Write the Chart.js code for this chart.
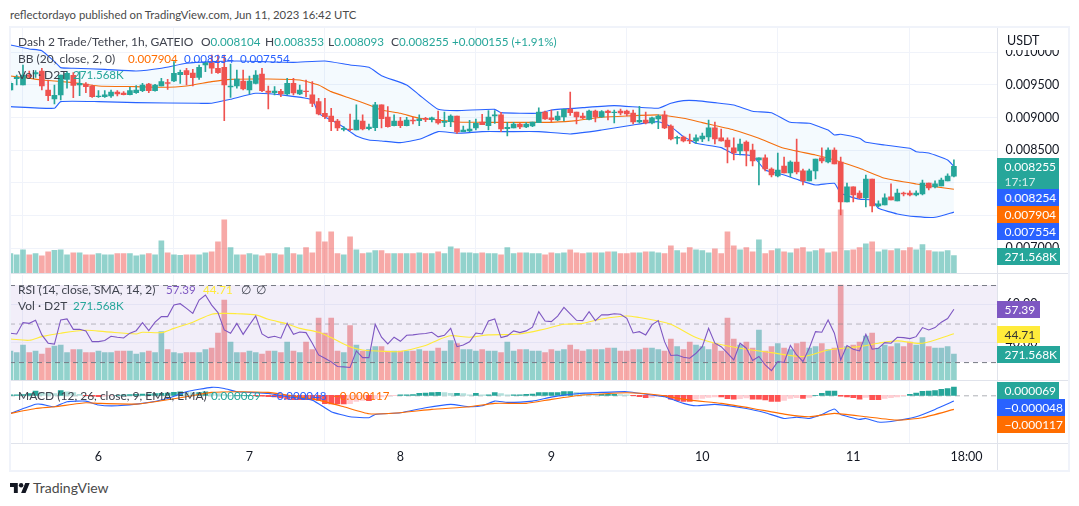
<!DOCTYPE html>
<html>
<head>
<meta charset="utf-8">
<title>Dash 2 Trade/Tether, 1h</title>
<script src="https://cdn.jsdelivr.net/npm/chart.js@4"></script>
<style>
  html, body { margin: 0; background: #fff; }
  body { width: 1079px; height: 506px; position: relative; overflow: hidden;
         font: 12.5px Lato, sans-serif; color: #3f434e; }
  canvas { position: absolute; left: 10px; }
  .abs { position: absolute; white-space: nowrap; }
  .line { position: absolute; background: #e0e3eb; }
  .legend { position: absolute; left: 18px; white-space: pre; line-height: 16px; height: 16px; font-size: 12px; }
  .legend span { display: inline-block; }
  .num { font-size: 11.6px; font-weight: 400; }
  .up { color: #26a69a; } .bl { color: #2962ff; } .or { color: #ff6d00; }
  .tag { position: absolute; left: 997px; color: #fff; line-height: 17px; height: 17px; font-size: 12px;
         padding-left: 7.5px; box-sizing: border-box; }
</style>
</head>
<body>
<div class="abs" style="left:10px;top:8px;font-size:11.3px;color:#4a4a4a">reflectordayo published on TradingView.com, Jun 11, 2023 16:42 UTC</div>

<canvas id="mainChart" width="1059" height="246" style="top:27px"></canvas>
<canvas id="rsiChart" width="1059" height="105" style="top:275px"></canvas>
<canvas id="macdChart" width="1059" height="91" style="top:380px"></canvas>

<div class="line" style="left:10px;top:273px;width:1059px;height:1px"></div>
<div class="line" style="left:10px;top:380px;width:1059px;height:1px"></div>
<div class="line" style="left:10px;top:443px;width:1059px;height:1px"></div>
<div class="line" style="left:997px;top:27px;width:1px;height:444px"></div>
<div class="abs" style="left:9px;top:26px;width:1061px;height:446px;box-sizing:border-box;border:2px solid #f0f3fa"></div>

<div class="abs" style="left:998px;top:28px;width:70px;height:22px;background:#fff;color:#131722;padding:5px 0 0 9px;box-sizing:border-box">USDT</div>

<div class="legend" style="top:34px"><span style="width:183px">Dash 2 Trade/Tether, 1h, GATEIO</span><span style="width:64px">O<b class="up num">0.008104</b></span><span style="width:63px">H<b class="up num">0.008353</b></span><span style="width:63px">L<b class="up num">0.008093</b></span><span style="width:61px">C<b class="up num">0.008255</b></span><span class="up num">+0.000155 (+1.91%)</span></div>
<div class="legend" style="top:51px"><span style="width:110px">BB (20, close, 2, 0)</span><span class="or num" style="width:56px">0.007904</span><span class="bl num" style="width:56px">0.008254</span><span class="bl num">0.007554</span></div>
<div class="legend" style="top:67px"><span style="width:55px">Vol · D2T</span><span class="up num">271.568K</span></div>
<div class="legend" style="top:282px"><span style="width:148px">RSI (14, close, SMA, 14, 2)</span><span class="num" style="width:37px;color:#7e57c2">57.39</span><span class="num" style="width:38px;color:#ffeb3b">44.71</span><span style="width:15px">∅</span><span>∅</span></div>
<div class="legend" style="top:298px"><span style="width:55px">Vol · D2T</span><span class="up num">271.568K</span></div>
<div class="legend" style="top:388px"><span style="width:193px">MACD (12, 26, close, 9, EMA, EMA)</span><span class="up num" style="width:59px">0.000069</span><span class="bl num" style="width:63px">−0.000048</span><span class="or num">−0.000117</span></div>

<div class="tag" style="top:158px;width:62px;height:31px;background:#26a69a;line-height:15px;padding-top:1px">0.008255<br><span style="opacity:.8">17:17</span></div>
<div class="tag" style="top:189px;width:62px;background:#2962ff">0.008254</div>
<div class="tag" style="top:206px;width:62px;background:#ff6d00">0.007904</div>
<div class="tag" style="top:223px;width:62px;background:#2962ff">0.007554</div>
<div class="tag" style="top:248px;width:63px;background:#26a69a">271.568K</div>
<div class="tag" style="top:301px;width:43px;background:#7e57c2">57.39</div>
<div class="tag" style="top:326px;width:43px;background:#ffeb3b;color:#333">44.71</div>
<div class="tag" style="top:346px;width:63px;background:#26a69a">271.568K</div>
<div class="tag" style="top:382px;width:62px;background:#26a69a">0.000069</div>
<div class="tag" style="top:399px;width:68px;background:#2962ff">−0.000048</div>
<div class="tag" style="top:416px;width:68px;background:#ff6d00">−0.000117</div>

<svg class="abs" style="left:10px;top:482px" width="20" height="12" viewBox="0 4 36 18"><path fill="#131722" d="M14 22H7V11H0V4h14v18zM28 22h-8l7.5-18h8L28 22z"/><circle fill="#131722" cx="20" cy="8" r="4"/></svg>
<div class="abs" style="left:33px;top:479px;font-size:14px;color:#4a4a4a">TradingView</div>

<script>
"use strict";

// prices are in 1e-6 USDT, volumes in thousands; one entry per hourly bar
const opens = [
  9423,9596,9500,9653,9668,9714,9423,9285,9347,9586,
  9647,9500,9515,9484,9321,9321,9331,9392,9377,9352,
  9382,9413,9515,9413,9484,9535,9561,9658,9719,9683,
  9617,9806,9841,9755,9770,9469,9484,9561,9423,9525,
  9668,9408,9382,9403,9362,9525,9362,9408,9347,9245,
  9066,9025,8949,8821,8826,8811,8949,8831,8847,9194,
  9010,8877,8949,8877,8964,8954,8990,8969,8974,8928,
  8938,9025,8786,8796,8842,8933,8877,9025,9041,8831,
  8842,8903,8857,8872,8923,9086,8995,8964,9010,9132,
  9086,9025,8974,9102,9010,9102,9076,9102,9102,9071,
  8933,8964,8918,8979,9041,8872,8684,8704,8653,8643,
  8673,8704,8842,8689,8658,8536,8490,8627,8505,8352,
  8383,8214,8107,8260,8153,8321,8184,8031,8184,8383,
  8321,8505,8321,7709,7939,7847,7771,8061,7648,7663,
  7786,7725,7847,7847,7816,7832,8000,7939,7954,8031,
  8104];
const highs = [
  9550,9653,9806,9714,9719,9755,9576,9500,9653,9704,
  9688,9704,9535,9500,9413,9413,9423,9413,9397,9464,
  9489,9525,9525,9510,9602,9586,9857,9729,9755,9739,
  9806,9846,9958,9958,9958,9821,9729,9729,9637,9719,
  9755,9484,9474,9433,9602,9602,9500,9576,9551,9296,
  9296,9143,8974,8862,9056,9194,9041,8903,9234,9194,
  9168,9041,9005,9005,9005,9041,9005,9010,9102,9086,
  9041,9025,8872,8959,8979,9051,9107,9107,9081,8928,
  8928,8913,8923,8933,9148,9102,9117,9092,9132,9392,
  9086,9071,9117,9117,9107,9117,9117,9132,9117,9117,
  9173,9086,9010,9041,9102,8888,8719,8719,8750,8735,
  8765,8964,8933,8826,8689,8689,8673,8643,8597,8383,
  8429,8230,8459,8398,8337,8673,8214,8214,8367,8536,
  8536,8536,8398,8000,7939,7878,8122,8061,7725,7832,
  7985,7908,7862,7878,7878,8046,8000,8031,8076,8138,
  8353];
const lows = [
  9413,9500,9500,9602,9617,9423,9260,9209,9270,9449,
  9306,9336,9382,9311,9311,9311,9311,9331,9347,9347,
  9372,9398,9382,9403,9484,9433,9551,9525,9500,9484,
  9586,9704,9678,9678,8954,9311,9449,9423,9362,9515,
  9398,9132,9347,9321,9347,9347,9352,9321,9168,9041,
  8984,8801,8801,8796,8801,8811,8811,8811,8801,8842,
  8852,8872,8847,8872,8903,8877,8938,8933,8898,8862,
  8862,8760,8786,8786,8811,8893,8811,8913,8786,8719,
  8842,8831,8847,8862,8923,8974,8938,8954,8949,9035,
  8903,8984,8964,8933,9005,8964,8918,9041,9025,8903,
  8918,8903,8903,8831,8831,8658,8597,8627,8602,8607,
  8632,8643,8597,8638,8306,8352,8428,8260,8260,7970,
  8184,8092,8092,8153,8092,8138,7970,8031,8061,8306,
  8306,8291,7510,7709,7709,7760,7633,7556,7633,7663,
  7740,7725,7801,7801,7801,7816,7893,7924,7954,8031,
  8093];
const closes = [
  9525,9617,9653,9632,9688,9484,9336,9341,9653,9678,
  9494,9525,9474,9321,9331,9347,9392,9362,9352,9413,
  9423,9500,9413,9500,9551,9525,9678,9693,9658,9612,
  9770,9841,9755,9688,9500,9484,9591,9438,9561,9653,
  9413,9387,9408,9362,9525,9377,9423,9398,9219,9056,
  9015,8939,8842,8837,8816,8964,8826,8857,9194,8984,
  8862,8949,8877,8964,8949,8979,8974,8995,8918,8944,
  9025,8780,8811,8826,8913,8893,9010,9041,8826,8852,
  8903,8857,8903,8933,9086,8979,8969,9025,9127,9076,
  9010,8995,9102,9010,9092,9076,9086,9071,9056,8933,
  8959,8918,8995,9025,8842,8673,8699,8643,8643,8689,
  8719,8842,8673,8643,8551,8459,8597,8490,8337,8383,
  8214,8122,8199,8153,8321,8168,8031,8184,8367,8337,
  8505,8291,7709,7939,7816,7771,8061,7648,7679,7771,
  7740,7847,7832,7816,7847,8000,7924,7985,8046,8107,
  8255];
const volumes = [
  303,287,365,287,303,271,334,355,365,287,
  318,318,287,287,303,287,287,303,303,303,
  271,287,303,287,506,318,287,277,287,287,
  287,318,334,491,835,397,287,287,303,287,
  271,303,303,287,397,303,287,397,318,647,
  491,647,303,287,569,365,303,318,350,350,
  303,303,303,303,303,318,303,303,334,303,
  412,381,318,318,303,318,303,303,287,397,
  303,318,318,303,303,287,318,303,318,365,
  318,303,318,318,318,334,334,303,303,318,
  318,334,334,318,303,428,350,318,397,365,
  350,318,381,303,647,428,365,397,334,522,
  303,350,381,334,318,381,397,334,350,381,
  318,334,992,350,365,397,459,491,334,365,
  350,381,350,397,365,444,350,334,334,350,
  271.568];

// Bollinger bands, read at the bars listed next to each
const bbUpperBars = [0,3,5,7,8,10,15,20,24,28,32,36,40,45,50,54,57,59,63,65,68,71,77,78,84,86,91,96,103,105,107,109,112,115,118,121,124,127,130,131,132,135,136,139,143,144,146,149,150];
const bbUpper = [10112,10050,10025,9857,9765,9755,9739,9714,9755,9831,9857,9867,9857,9846,9867,9806,9770,9642,9500,9347,9127,9107,9127,9076,9066,9117,9153,9183,9143,9219,9260,9260,9229,9194,9097,9076,8928,8913,8811,8735,8745,8684,8622,8581,8530,8479,8459,8352,8254];
const bbMidBars = [0,3,5,10,14,20,24,28,32,35,41,46,49,51,54,57,59,62,65,68,71,75,79,84,86,90,94,98,103,107,110,115,119,123,128,131,135,139,144,147,150];
const bbMid = [9637,9602,9576,9535,9484,9474,9464,9484,9551,9586,9591,9576,9500,9398,9296,9194,9117,9066,8990,8964,8933,8928,8928,8928,8928,8954,9005,9025,9041,8990,8923,8811,8684,8530,8428,8352,8224,8071,7985,7944,7904];
const bbLowerBars = [0,7,8,14,20,30,32,35,39,44,48,49,52,54,55,57,59,62,65,68,71,75,79,84,89,94,99,103,105,107,108,109,113,115,118,120,123,125,128,131,132,135,137,138,141,144,147,150];
const bbLower = [9168,9143,9245,9245,9229,9219,9219,9280,9372,9336,9270,9066,8913,8786,8719,8658,8643,8617,8668,8786,8760,8786,8786,8786,8750,8811,8888,8938,8862,8709,8658,8607,8541,8444,8413,8199,8122,8056,7969,7995,7842,7750,7740,7612,7526,7485,7475,7554];

const rsiValues = [
  45.0,44.6,50.5,50.1,51.7,44.1,39.8,39.3,51.9,52.4,
  47.0,47.0,46.2,40.6,40.6,41.2,43.4,42.9,42.5,45.0,
  46.3,50.5,46.3,50.7,53.6,53.6,59.6,60.3,57.9,55.3,
  62.2,64.8,59.6,55.7,46.7,45.0,50.1,44.4,49.3,53.9,
  44.6,42.7,43.4,42.4,50.1,44.4,45.6,45.3,39.8,33.7,
  32.0,30.1,27.7,27.5,27.2,35.8,32.3,32.3,49.6,42.9,
  39.4,42.9,40.8,43.9,44.1,44.6,44.8,45.5,43.1,43.9,
  47.5,38.0,38.9,40.5,45.1,44.6,51.3,52.4,42.7,43.6,
  46.2,45.3,46.2,48.1,56.2,51.3,51.0,53.9,58.4,55.0,
  51.7,51.5,56.2,51.5,54.6,54.5,55.1,54.8,52.7,45.1,
  45.8,44.1,49.3,51.5,40.6,33.4,33.7,32.5,32.0,34.6,
  38.0,47.5,39.8,38.0,34.6,31.1,39.8,37.2,30.8,32.9,
  28.5,25.6,30.3,29.8,38.6,33.7,30.3,37.2,45.8,45.5,
  51.9,45.0,31.1,38.6,36.7,35.8,44.4,36.7,37.2,40.1,
  39.8,42.9,42.7,42.2,43.2,47.9,46.7,47.9,50.7,52.6,
  57.39];
const rsiMaBars = [0,3,5,8,12,15,20,21,24,26,29,32,34,36,39,41,44,46,49,51,54,56,60,62,66,68,70,73,76,81,85,88,91,94,98,100,103,105,109,112,116,121,126,130,135,138,141,145,150];
const rsiMa = [42.0,41.3,43.2,45.0,46.5,45.8,44.6,45.5,45.3,47.5,50.7,54.8,55.3,55.1,54.5,52.2,49.8,47.5,45.5,42.7,38.0,36.3,35.5,35.5,38.6,41.5,43.7,42.9,44.1,44.6,47.2,49.6,50.1,52.4,53.9,53.1,51.3,49.6,42.7,39.8,37.2,34.9,32.9,36.3,38.0,39.8,41.0,39.8,44.71];

const macdBars = [0,4,5,7,9,12,14,17,21,25,28,32,34,36,41,44,48,51,54,57,58,62,66,70,73,75,77,79,83,86,90,94,98,103,104,107,109,112,117,120,123,125,127,129,131,132,135,136,138,140,144,147,150];
const macdLine = [-150,-75,-75,-95,-53,-48,-81,-87,-67,-26,30,66,57,30,16,-12,-40,-136,-178,-186,-159,-145,-103,-75,-95,-87,-48,-59,-48,-15,13,24,30,-4,-12,-67,-87,-75,-109,-145,-192,-181,-192,-159,-114,-159,-200,-192,-222,-217,-178,-117,-48];
const signalBars = [0,4,7,12,14,20,23,28,32,36,41,44,49,53,57,62,67,73,77,82,86,91,98,103,108,113,118,123,127,131,136,141,145,150];
const signalLine = [-150,-109,-95,-62,-67,-73,-53,-12,24,30,24,2,-40,-95,-153,-145,-117,-95,-67,-67,-34,2,21,2,-40,-67,-109,-156,-178,-150,-178,-206,-186,-117];
const macdHist = [
  3,3,6,14,36,22,17,14,39,28,22,8,
  -3,-8,-11,-8,-3,0,3,6,8,11,11,14,
  17,19,25,28,25,22,22,28,22,14,6,0,
  0,0,0,-3,-8,-11,-14,-22,-33,-36,-36,-36,
  -39,-42,-69,-72,-72,-72,-69,-50,-42,-44,-28,-14,
  -6,-3,3,3,6,17,19,22,25,22,17,17,
  14,3,17,3,3,22,14,3,3,3,8,11,
  22,22,22,22,30,30,25,19,14,8,8,8,
  8,6,3,-3,-11,-19,-17,-8,-11,-33,-44,-50,
  -50,-33,-25,-17,-14,-14,-28,-33,-28,-22,-33,-33,
  -39,-50,-50,-42,-25,-19,-25,-17,0,17,36,36,
  -8,-14,-19,-33,-17,-36,-36,-25,-19,-14,-3,8,
  19,33,36,39,50,55,69];

const priceTicks = [7000,7500,8000,8500,9000,9500,10000];
const rsiTicks = [40,60];
const rsiBand = [30,50,70];
const dayBars = [14,38,62,86,110,134,152];
const dayLabels = ["6","7","8","9","10","11","18:00"];

const UP = "#26a69a", DOWN = "#ef5350";
const GRID = "#f0f3fa", TEXT = "#131722";

// x span of a pane in bars: left edge 10px, right edge 997.5px, 6.29px per bar
const X_MIN = -0.064, X_MAX = 156.93;
const AXIS_WIDTH = 71.5;

Chart.defaults.font.family = "Lato, sans-serif";
Chart.defaults.font.size = 12.5;
Chart.defaults.color = TEXT;

const bars = [...opens.keys()];
const candleColor = bars.map((i) => (closes[i] >= opens[i] ? UP : DOWN));
const volColor = candleColor.map((c) => (c === UP ? "rgba(38,166,154,.5)" : "rgba(239,83,80,.5)"));
const histColor = macdHist.map((v, i) => {
  const prev = i ? macdHist[i - 1] : 0;
  if (v >= 0) return v >= prev ? UP : "#b2dfdb";
  return v <= prev ? "#ff5252" : "#ffcdd2";
});
const xy = (xs, ys) => xs.map((x, i) => ({ x, y: ys[i] }));

function xAxis(labels) {
  return {
    type: "linear", min: X_MIN, max: X_MAX, offset: false,
    afterBuildTicks: (s) => { s.ticks = dayBars.map((v) => ({ value: v })); },
    afterFit: (s) => { s.height = labels ? 28 : 0; s.paddingLeft = s.paddingRight = 0; },
    border: { display: false },
    grid: { color: GRID, drawTicks: false },
    ticks: {
      display: labels, autoSkip: false, maxRotation: 0, padding: 6,
      callback: (v) => dayLabels[dayBars.indexOf(v)],
    },
  };
}

function yAxis(min, max, tickList, fmt) {
  return {
    position: "right", min, max, offset: false,
    afterBuildTicks: (s) => { s.ticks = tickList.map((v) => ({ value: v })); },
    // no label padding: the pane must fill its canvas from top to bottom
    afterFit: (s) => { s.width = AXIS_WIDTH; s.paddingTop = s.paddingBottom = 0; },
    border: { display: false },
    grid: { color: GRID, drawTicks: false },
    ticks: { padding: 8, callback: fmt, autoSkip: false },
  };
}

const hiddenAxis = (min, max) => ({ display: false, min, max });

function barSet(data, color, width, axis, order) {
  return { type: "bar", data, backgroundColor: color, barThickness: width, grouped: false,
           yAxisID: axis, order, borderWidth: 0 };
}

function lineSet(data, color, axis, order, extra) {
  return Object.assign({ type: "line", data, borderColor: color, borderWidth: 1.1, pointRadius: 0,
                         yAxisID: axis, order, fill: false, tension: 0.15 }, extra);
}

const baseOptions = (scales) => ({
  responsive: false, animation: false,
  layout: { padding: 0, autoPadding: false },
  plugins: { legend: { display: false }, tooltip: { enabled: false } },
  scales,
});

new Chart(document.getElementById("mainChart"), {
  data: {
    datasets: [
      barSet(xy(bars, volumes), volColor, 5, "vol", 5),
      lineSet(xy(bbUpperBars, bbUpper), "#2962ff", "y", 3,
              { fill: { target: "+1" }, backgroundColor: "rgba(33,150,243,.05)" }),
      lineSet(xy(bbLowerBars, bbLower), "#2962ff", "y", 3),
      lineSet(xy(bbMidBars, bbMid), "#ff6d00", "y", 3),
      barSet(bars.map((i) => ({ x: i, y: [lows[i], highs[i]] })), candleColor, 1, "y", 2),
      barSet(bars.map((i) => ({ x: i, y: [opens[i], closes[i]] })), candleColor, 5, "y", 1),
    ],
  },
  options: baseOptions({
    x: xAxis(false),
    y: yAxis(6622, 10387, priceTicks, (v) => (v / 1e6).toFixed(6)),
    vol: hiddenAxis(0, 3860),
  }),
});

// RSI band and its dashed levels go on top of the volume bars, under the lines
const rsiBandPlugin = {
  id: "rsiBand",
  afterDatasetDraw(chart, args) {
    if (args.index !== 0) return;
    const { ctx, chartArea: a, scales: { y } } = chart;
    const top = y.getPixelForValue(rsiBand[2]), mid = y.getPixelForValue(rsiBand[1]), bottom = y.getPixelForValue(rsiBand[0]);
    ctx.save();
    ctx.fillStyle = "rgba(126,87,194,.1)";
    ctx.fillRect(a.left, top, a.right - a.left, bottom - top);
    ctx.setLineDash([5, 4]);
    ctx.lineWidth = 1;
    [[top, "#787b86"], [mid, "rgba(120,123,134,.5)"], [bottom, "#787b86"]].forEach(([py, c]) => {
      ctx.strokeStyle = c;
      ctx.beginPath();
      ctx.moveTo(a.left, py + 0.5);
      ctx.lineTo(a.right, py + 0.5);
      ctx.stroke();
    });
    ctx.restore();
  },
};

new Chart(document.getElementById("rsiChart"), {
  data: {
    datasets: [
      barSet(xy(bars, volumes), volColor, 5, "vol", 5),
      lineSet(xy(rsiMaBars, rsiMa), "#ffeb3b", "y", 2, { tension: 0.3 }),
      lineSet(xy(bars, rsiValues), "#7e57c2", "y", 1, { tension: 0 }),
    ],
  },
  options: baseOptions({
    x: xAxis(false),
    y: yAxis(20.7, 75.2, rsiTicks, (v) => v.toFixed(2)),
    vol: hiddenAxis(0, 1096),
  }),
  plugins: [rsiBandPlugin],
});

const zeroLinePlugin = {
  id: "zeroLine",
  beforeDatasetsDraw(chart) {
    const { ctx, chartArea: a, scales: { y } } = chart;
    const py = y.getPixelForValue(0);
    ctx.save();
    ctx.setLineDash([5, 4]);
    ctx.strokeStyle = "rgba(120,123,134,.6)";
    ctx.beginPath();
    ctx.moveTo(a.left, py + 0.5);
    ctx.lineTo(a.right, py + 0.5);
    ctx.stroke();
    ctx.restore();
  },
};

new Chart(document.getElementById("macdChart"), {
  data: {
    datasets: [
      barSet(xy(bars, macdHist), histColor, 5, "y", 3),
      lineSet(xy(macdBars, macdLine), "#2962ff", "y", 2),
      lineSet(xy(signalBars, signalLine), "#ff6d00", "y", 1),
    ],
  },
  options: baseOptions({
    x: xAxis(true),
    y: Object.assign(yAxis(-396, 127, [], (v) => v), { grid: { display: false } }),
  }),
  plugins: [zeroLinePlugin],
});
</script>
</body>
</html>
